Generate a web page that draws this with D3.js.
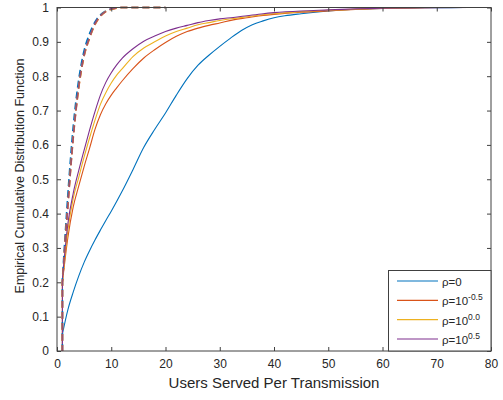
<!DOCTYPE html>
<html>
<head>
<meta charset="utf-8">
<script src="https://cdn.jsdelivr.net/npm/d3@7"></script>
<style>
  html, body { margin: 0; padding: 0; background: #fff; }
  svg { display: block; font-family: "Liberation Sans", Arial, Helvetica, sans-serif; }
</style>
</head>
<body>
<svg id="chart" width="503" height="400"></svg>
<script>
// Empirical CDF samples: users served per transmission (x) vs. cumulative probability (F).
// Each curve opens with a vertical step at x = 1 (F goes 0 -> F(1)).
const rhoZeroX   = [1, 1, 2, 3, 4, 5, 6, 7, 8, 9, 10, 12, 14, 16, 18, 20, 22, 24, 26, 28, 30, 32, 34, 36, 38, 40, 42, 45, 50, 55, 60, 65, 70, 75, 79];
const rhoZeroF   = [0, 0.05, 0.12, 0.172, 0.218, 0.258, 0.292, 0.323, 0.352, 0.38, 0.407, 0.465, 0.528, 0.593, 0.645, 0.693, 0.745, 0.793, 0.832, 0.861, 0.887, 0.911, 0.933, 0.95, 0.961, 0.97, 0.976, 0.982, 0.99, 0.995, 0.997, 0.999, 0.9995, 0.9999, 1];

const rhoLowX    = [1, 1, 2, 3, 4, 5, 6, 7, 8, 9, 10, 11, 12, 14, 16, 18, 20, 22, 24, 26, 28, 30, 32.5, 35, 38, 40, 45, 50, 55, 60, 65, 70];
const rhoLowF    = [0, 0.2, 0.33, 0.42, 0.48, 0.537, 0.59, 0.645, 0.688, 0.72, 0.745, 0.766, 0.786, 0.822, 0.853, 0.877, 0.898, 0.916, 0.93, 0.94, 0.948, 0.955, 0.964, 0.97, 0.977, 0.98, 0.986, 0.99, 0.994, 0.997, 0.999, 1];

const rhoMidX    = [1, 1, 2, 3, 4, 5, 6, 7, 8, 9, 10, 11, 12, 14, 16, 18, 20, 22, 24, 26, 28, 30, 32.5, 35, 38, 40, 45, 50, 55, 60, 65, 68];
const rhoMidF    = [0, 0.2, 0.35, 0.445, 0.505, 0.565, 0.62, 0.672, 0.718, 0.752, 0.78, 0.803, 0.821, 0.857, 0.882, 0.9, 0.917, 0.93, 0.94, 0.95, 0.956, 0.962, 0.968, 0.973, 0.979, 0.982, 0.988, 0.992, 0.995, 0.998, 0.999, 1];

const rhoHighX   = [1, 1, 2, 3, 4, 5, 6, 7, 8, 9, 10, 11, 12, 14, 16, 18, 20, 22, 24, 26, 28, 30, 32.5, 35, 38, 40, 45, 50, 55, 60, 65, 70, 76];
const rhoHighF   = [0, 0.21, 0.37, 0.46, 0.525, 0.585, 0.643, 0.697, 0.745, 0.782, 0.81, 0.833, 0.852, 0.88, 0.902, 0.917, 0.93, 0.94, 0.948, 0.956, 0.962, 0.967, 0.971, 0.976, 0.982, 0.985, 0.99, 0.993, 0.996, 0.998, 0.999, 0.9995, 1];

// Dashed reference curves (one per rho value)
const dashX      = [1, 1, 2, 3, 4, 5, 6, 7, 8, 9, 10, 11, 12, 20];
const dashZeroF  = [0, 0.21, 0.455, 0.655, 0.79, 0.875, 0.924, 0.958, 0.979, 0.99, 0.996, 0.999, 1, 1];
const dashLowF   = [0, 0.2, 0.42, 0.62, 0.765, 0.858, 0.91, 0.95, 0.974, 0.988, 0.995, 0.998, 1, 1];
const dashMidF   = [0, 0.2, 0.425, 0.625, 0.768, 0.86, 0.912, 0.952, 0.975, 0.989, 0.995, 0.998, 1, 1];
const dashHighF  = [0, 0.2, 0.425, 0.625, 0.77, 0.862, 0.913, 0.953, 0.976, 0.989, 0.996, 0.999, 1, 1];

const xTicks = [0, 10, 20, 30, 40, 50, 60, 70, 80];
const yTicks = [0, 0.1, 0.2, 0.3, 0.4, 0.5, 0.6, 0.7, 0.8, 0.9, 1];
const yTickLabels = ["0", "0.1", "0.2", "0.3", "0.4", "0.5", "0.6", "0.7", "0.8", "0.9", "1"];

const seriesExponents = [null, "-0.5", "0.0", "0.5"];
const seriesColors = ["#0072BD", "#D95319", "#EDB120", "#7E2F8E"];

const xLabel = "Users Served Per Transmission";
const yLabel = "Empirical Cumulative Distribution Function";

const svg = d3.select("#chart");
const plotLeft = 57, plotRight = 491, plotTop = 7.5, plotBottom = 351;

const x = d3.scaleLinear().domain([0, 80]).range([plotLeft, plotRight]);
const y = d3.scaleLinear().domain([0, 1]).range([plotBottom, plotTop]);

const axisColor = "#404040";
const tickColor = "#262626";

// curves: straight step at x = 1, smooth monotone curve afterwards
const smooth = d3.line().x(d => x(d[0])).y(d => y(d[1])).curve(d3.curveMonotoneX);
const zip = (xs, fs) => xs.map((v, i) => [v, fs[i]]);
const cdfPath = pts => {
  const start = pts[0];
  const rest = pts.slice(1);
  return `M${x(start[0])},${y(start[1])}` + smooth(rest).replace(/^M/, "L");
};

const solid = [
  zip(rhoZeroX, rhoZeroF),
  zip(rhoLowX, rhoLowF),
  zip(rhoMidX, rhoMidF),
  zip(rhoHighX, rhoHighF)
];
const dashed = [
  zip(dashX, dashZeroF),
  zip(dashX, dashLowF),
  zip(dashX, dashMidF),
  zip(dashX, dashHighF)
];

const plot = svg.append("g");
solid.forEach((pts, i) => {
  plot.append("path")
    .attr("d", cdfPath(pts))
    .attr("fill", "none")
    .attr("stroke", seriesColors[i])
    .attr("stroke-width", 1.1);
});
dashed.forEach((pts, i) => {
  plot.append("path")
    .attr("d", cdfPath(pts))
    .attr("fill", "none")
    .attr("stroke", seriesColors[i])
    .attr("stroke-width", 1.6)
    .attr("stroke-dasharray", "7,4")
    .attr("stroke-dashoffset", i === 0 ? 0 : 1)
    .attr("opacity", i === 3 ? 0.75 : 1);
});

// axes (box with inward ticks on all sides)
const styleAxis = g => {
  g.select(".domain").remove();
  g.selectAll(".tick line").attr("stroke", axisColor);
  g.selectAll(".tick text").attr("fill", tickColor).style("font-size", "12px")
    .style("font-family", "'Liberation Sans', Arial, sans-serif");
};

svg.append("g")
  .attr("transform", `translate(0,${plotBottom})`)
  .call(d3.axisBottom(x).tickValues(xTicks).tickSizeInner(-4).tickSizeOuter(0).tickPadding(8).tickFormat(d3.format("d")))
  .call(styleAxis);

svg.append("g")
  .attr("transform", `translate(0,${plotTop})`)
  .call(d3.axisTop(x).tickValues(xTicks).tickSizeInner(-4).tickSizeOuter(0).tickFormat(""))
  .call(styleAxis);

svg.append("g")
  .attr("transform", `translate(${plotLeft},0)`)
  .call(d3.axisLeft(y).tickValues(yTicks).tickSizeInner(-4).tickSizeOuter(0).tickPadding(8)
    .tickFormat((d, i) => yTickLabels[i]))
  .call(styleAxis);

svg.append("g")
  .attr("transform", `translate(${plotRight},0)`)
  .call(d3.axisRight(y).tickValues(yTicks).tickSizeInner(-4).tickSizeOuter(0).tickFormat(""))
  .call(styleAxis);

// frame
svg.append("rect")
  .attr("x", plotLeft).attr("y", plotTop)
  .attr("width", plotRight - plotLeft).attr("height", plotBottom - plotTop)
  .attr("fill", "none").attr("stroke", axisColor).attr("stroke-width", 1);

// axis titles
svg.append("text")
  .attr("x", (plotLeft + plotRight) / 2).attr("y", 388)
  .attr("text-anchor", "middle")
  .attr("fill", tickColor)
  .style("font-size", "15px")
  .text(xLabel);

svg.append("text")
  .attr("transform", `translate(24,176) rotate(-90)`)
  .attr("text-anchor", "middle")
  .attr("fill", tickColor)
  .style("font-size", "12.5px")
  .text(yLabel);

// legend
const lg = svg.append("g");
lg.append("rect")
  .attr("x", 388.5).attr("y", 270.5)
  .attr("width", plotRight - 388.5).attr("height", plotBottom - 270.5)
  .attr("fill", "#fff").attr("stroke", axisColor).attr("stroke-width", 1);

const rowY = d3.scalePoint().domain(d3.range(seriesColors.length)).range([281, 339]);
seriesColors.forEach((c, i) => {
  const ry = rowY(i);
  lg.append("line")
    .attr("x1", 397).attr("x2", 438).attr("y1", ry).attr("y2", ry)
    .attr("stroke", c).attr("stroke-width", 1.1);
  const t = lg.append("text")
    .attr("x", 442).attr("y", ry + 5)
    .attr("fill", tickColor)
    .style("font-size", "11.5px");
  t.append("tspan").text("\u03C1");
  if (seriesExponents[i] === null) {
    t.append("tspan").text("=0");
  } else {
    t.append("tspan").text("=10");
    t.append("tspan").attr("dy", -5).style("font-size", "8.5px").text(seriesExponents[i]);
  }
});
</script>
</body>
</html>
